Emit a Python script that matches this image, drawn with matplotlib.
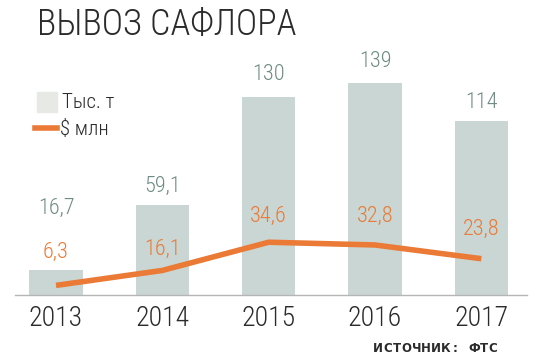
import matplotlib
matplotlib.use("Agg")
import matplotlib.pyplot as plt

# ===============================
# DATA
# ===============================
years = ["2013", "2014", "2015", "2016", "2017"]
tonnes = [16.7, 59.1, 130, 139, 114]          # тыс. т
usd = [6.3, 16.1, 34.6, 32.8, 23.8]           # $ млн
tonnes_labels = ["16,7", "59,1", "130", "139", "114"]
usd_labels = ["6,3", "16,1", "34,6", "32,8", "23,8"]

# ===============================
# STYLE
# ===============================
plt.rcParams["font.family"] = ["Roboto Condensed", "DejaVu Sans"]
plt.rcParams["font.weight"] = 300

BAR_COLOR = "#c9d6d3"
BAR_TEXT = "#6e8b82"
ORANGE = "#ea7a35"
DARK = "#2b2b2b"

W, H = 542, 364
fig = plt.figure(figsize=(W / 100, H / 100), dpi=100)

# axes box in pixels: left 15, right 527, baseline at y=295 from top
ax = fig.add_axes([15 / W, 69 / H, 512 / W, 295 / H])
x = list(range(len(years)))
ax.set_xlim(-0.386, 4.43)
ax.set_ylim(0, 193.4)

ax.bar(x, tonnes, width=0.5, color=BAR_COLOR, zorder=1)
ax.plot(x, usd, color=ORANGE, lw=4, solid_capstyle="butt", zorder=3)

# label offsets above the mark, in pixels
tonne_offsets = [61, 18, 22, 21, 19]
usd_offsets = [33, 21, 26, 29, 29]
for i in x:
    ax.annotate(tonnes_labels[i], (i, tonnes[i]), xytext=(0, tonne_offsets[i] * 0.72),
                textcoords="offset points", ha="center", va="center",
                fontsize=16, color=BAR_TEXT)
    ax.annotate(usd_labels[i], (i, usd[i]), xytext=(0, usd_offsets[i] * 0.72),
                textcoords="offset points", ha="center", va="center",
                fontsize=16, color=ORANGE)

for s in ["top", "right", "left"]:
    ax.spines[s].set_visible(False)
ax.spines["bottom"].set_color("#b5b5b5")
ax.spines["bottom"].set_linewidth(1)
ax.set_yticks([])
ax.set_xticks(x)
ax.set_xticklabels(years, fontsize=20, color=DARK)
ax.tick_params(axis="x", length=0, pad=7)

# ===============================
# TITLE, LEGEND, SOURCE
# ===============================
fig.text(37 / W, 1 - 25 / H, "ВЫВОЗ САФЛОРА", fontsize=26, color=DARK, va="center", ha="left")

fig.patches.append(plt.Rectangle((37 / W, 1 - 112 / H), 20 / W, 20 / H,
                                 transform=fig.transFigure, color="#e7e9e4", figure=fig))
fig.text(62 / W, 1 - 103 / H, "Тыс. т", fontsize=15, color=DARK, va="center")
fig.lines.append(plt.Line2D([35 / W, 57 / W], [1 - 128 / H, 1 - 128 / H],
                            transform=fig.transFigure, color=ORANGE, lw=4, figure=fig))
fig.text(60 / W, 1 - 129 / H, "$ млн", fontsize=15, color=DARK, va="center")

source = "ИСТОЧНИК: ФТС"
for j, ch in enumerate(source):
    fig.text((378 + j * 9.6) / W, 1 - 349 / H, ch, fontsize=8.5, fontweight="bold",
             family="DejaVu Sans", color=DARK, ha="center", va="center")

fig.savefig("out.png", dpi=100, facecolor="white")
